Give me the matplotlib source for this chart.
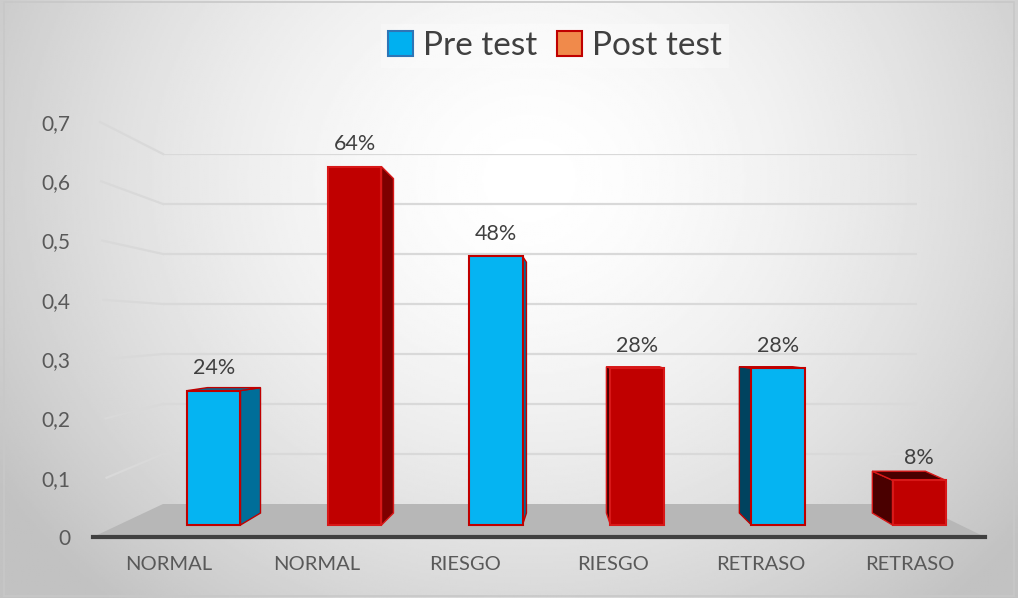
import numpy as np
import matplotlib.pyplot as plt
from matplotlib.patches import Polygon, Patch
from matplotlib.lines import Line2D

plt.rcParams['font.family'] = ['Lato', 'DejaVu Sans']

categories = ["NORMAL", "NORMAL", "RIESGO", "RIESGO", "RETRASO", "RETRASO"]
groups = ["Pre test", "Post test", "Pre test", "Post test", "Pre test", "Post test"]
values = [0.24, 0.64, 0.48, 0.28, 0.28, 0.08]
pct_labels = ["24%", "64%", "48%", "28%", "28%", "8%"]
yticks = [0, 0.1, 0.2, 0.3, 0.4, 0.5, 0.6, 0.7]
ytick_labels = ["0", "0,1", "0,2", "0,3", "0,4", "0,5", "0,6", "0,7"]

front = {"Pre test": "#05b4f2", "Post test": "#c00000"}
edge = {"Pre test": "#c00000", "Post test": "#d81818"}
side = {"Pre test": ("#006e99", "#00435f"), "Post test": ("#7d0000", "#4a0000")}

W, H = 1018, 598


def rect(x0, y0, x1, y1):
    return [x0 / W, 1 - y1 / H, (x1 - x0) / W, (y1 - y0) / H]


fig = plt.figure(figsize=(W / 100, H / 100), dpi=100)

# background gradient
bg = fig.add_axes([0, 0, 1, 1], zorder=0)
yy, xx = np.mgrid[0:1:300j, 0:1:500j]
r = np.sqrt(((xx - 0.52) / 0.62) ** 2 + ((yy - 0.30) / 0.95) ** 2)
shade = 1 - 0.24 * np.clip(r, 0, 1) ** 1.6
bg.imshow(shade, cmap="gray", vmin=0, vmax=1, extent=[0, 1, 0, 1], aspect="auto", origin="upper")
bg.add_patch(plt.Rectangle((0.004, 0.004), 0.992, 0.992, fill=False, ec="#c8c8c8", lw=1.2))
bg.set_xlim(0, 1)
bg.set_ylim(0, 1)
bg.axis("off")

# back wall
ax_back = fig.add_axes(rect(163, 154, 917, 504), zorder=1)
ax_back.set_xlim(0, 1)
ax_back.set_ylim(0, 0.7)
ax_back.axis("off")
for v in yticks[1:]:
    ax_back.axhline(v, color="#d9d9d9", lw=1.6)

# front axis
ax = fig.add_axes(rect(93, 122, 985, 537), zorder=2)
ax.patch.set_visible(False)
ax.set_xlim(-0.51, 5.51)
ax.set_ylim(0, 0.7)
for s in ["top", "right", "left"]:
    ax.spines[s].set_visible(False)
ax.spines["bottom"].set_color("#404040")
ax.spines["bottom"].set_linewidth(3)
ax.set_yticks(yticks)
ax.set_yticklabels(ytick_labels)
ax.set_xticks(range(len(categories)))
ax.set_xticklabels(categories)
ax.tick_params(axis="y", length=0, pad=16, labelsize=15, labelcolor="#595959")
ax.tick_params(axis="x", length=0, pad=14, labelsize=14.5, labelcolor="#595959")

# side wall lines and floor
to_fig = fig.transFigure.inverted()
for v in yticks[1:]:
    a = ax.get_yaxis_transform().transform((0.008 * (1 + (0.7 - v) * 1.5), v))
    b = ax_back.get_yaxis_transform().transform((0, v))
    pa, pb = to_fig.transform(a), to_fig.transform(b)
    ax_back.add_line(Line2D([pa[0], pb[0]], [pa[1], pb[1]], transform=fig.transFigure,
                            color="#d9d9d9", lw=1.6, clip_on=False))
floor_disp = [ax.transAxes.transform((0, 0)), ax_back.transAxes.transform((0, 0)),
              ax_back.transAxes.transform((1, 0)), ax.transAxes.transform((1, 0))]
floor = Polygon(to_fig.transform(np.array(floor_disp)), closed=True, transform=fig.transFigure,
                fc="#b7b7b7", ec="none", clip_on=False)
ax_back.add_patch(floor)

# bars
ax_bar = fig.add_axes(rect(93, 122, 985, 537), zorder=3)
ax_bar.patch.set_visible(False)
ax_bar.axis("off")
ax_bar.set_xlim(-0.858, 5.468)
ax_bar.set_ylim(-0.02143, 0.71964)

w = 0.376
xs = np.arange(len(values))
ax_bar.bar(xs, values, width=w, color=[front[g] for g in groups],
           edgecolor=[edge[g] for g in groups], linewidth=1.5, zorder=3)

for x, v, g, lab in zip(xs, values, groups, pct_labels):
    dx = 0.057 * (2.49 - x)
    dy0 = 0.0214
    dyh = 0.0214 - 0.067 * v
    e = x + w / 2 if dx > 0 else x - w / 2
    sc = side[g][0] if dx > 0 else side[g][1]
    ax_bar.add_patch(Polygon([(e, 0), (e + dx, dy0), (e + dx, v + dyh), (e, v)],
                             closed=True, fc=sc, ec=edge[g], lw=1.0, zorder=2))
    if dyh > 0:
        ax_bar.add_patch(Polygon([(x - w / 2, v), (x + w / 2, v), (x + w / 2 + dx, v + dyh),
                                  (x - w / 2 + dx, v + dyh)],
                                 closed=True, fc=sc, ec=edge[g], lw=1.0, zorder=2))
    ax_bar.annotate(lab, (x, v), xytext=(0, 9), textcoords="offset points",
                    ha="center", va="bottom", fontsize=15.5, color="#404040")

handles = [Patch(fc="#00b0f0", ec="#2e75b6", lw=1.5, label="Pre test"),
           Patch(fc="#f08a4b", ec="#c00000", lw=1.5, label="Post test")]
leg = fig.legend(handles=handles, loc="center", bbox_to_anchor=(555 / W, 1 - 46 / H), ncol=2,
                 fontsize=24, frameon=True, fancybox=False, handlelength=0.75, handleheight=0.75,
                 handletextpad=0.3, columnspacing=0.6, borderpad=0.2)
leg.get_frame().set_facecolor("white")
leg.get_frame().set_alpha(0.3)
leg.get_frame().set_edgecolor("none")
for t in leg.get_texts():
    t.set_color("#404040")

fig.savefig("out.png", dpi=100)
